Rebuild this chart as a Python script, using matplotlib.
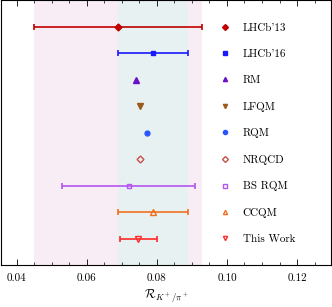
import numpy as np
import matplotlib
matplotlib.use("Agg")
from matplotlib import pyplot as plt
from matplotlib.lines import Line2D
from matplotlib.ticker import MultipleLocator

plt.rcParams['font.family'] = ['cmr10', 'DejaVu Serif']
plt.rcParams['mathtext.fontset'] = 'cm'
plt.rcParams['axes.formatter.use_mathtext'] = True

labels = ["LHCb'13", "LHCb'16", "RM", "LFQM", "RQM", "NRQCD", "BS RQM", "CCQM", "This Work"]
values = [0.069, 0.079, 0.0741, 0.0751, 0.0771, 0.0751, 0.072, 0.079, 0.0746]
err_lo = [0.024, 0.010, 0.0, 0.0, 0.0, 0.0, 0.019, 0.010, 0.0052]
err_hi = [0.024, 0.010, 0.0, 0.0, 0.0, 0.0, 0.019, 0.010, 0.0053]
markers = ['D', 's', '^', 'v', 'o', 'D', 's', '^', 'v']
colors = ['#c00000', '#1a1aff', '#6a10c8', '#9c5a1c', '#2a55ff',
          '#c8504a', '#b555f0', '#f07020', '#ff2a2a']
filled = [True, True, True, True, True, False, False, False, False]

# bands: LHCb'13 and LHCb'16 ranges
band13 = (values[0] - err_lo[0], values[0] + err_hi[0])
band16 = (values[1] - err_lo[1], values[1] + err_hi[1])

fig = plt.figure(figsize=(3.32, 3.07), dpi=100)
ax = fig.add_axes([1/332, 42/307, 330/332, 265/307])

ax.axvspan(*band13, color='#f8edf4', lw=0, zorder=0)
ax.axvspan(*band16, color='#e7f1f2', lw=0, zorder=0.5)

n = len(labels)
ypos = np.arange(n, 0, -1)
handles = []
for i in range(n):
    face = colors[i] if filled[i] else 'none'
    ms = 3.5 if markers[i] in ('D', 'o', 's') else 4
    if err_lo[i] > 0:
        ax.errorbar(values[i], ypos[i], xerr=[[err_lo[i]], [err_hi[i]]],
                    fmt=markers[i], color=colors[i], mfc=face, mec=colors[i],
                    ms=ms, lw=1.2, capsize=2, capthick=1.2, zorder=3)
    else:
        ax.plot(values[i], ypos[i], markers[i], color=colors[i], mfc=face,
                mec=colors[i], ms=ms, zorder=3)
    handles.append(Line2D([], [], ls='none', marker=markers[i], color=colors[i],
                          mfc=face, mec=colors[i], ms=3))

ax.legend(handles, labels, loc='upper left', bbox_to_anchor=(0.646, 0.935),
          frameon=False, fontsize=8, labelspacing=1.49, handlelength=1.0,
          handletextpad=1.05, borderpad=0)

ax.set_xlim(0.0355, 0.1297)
ax.set_ylim(0, 10)
ax.set_yticks([])
ax.xaxis.set_major_locator(MultipleLocator(0.02))
ax.xaxis.set_minor_locator(MultipleLocator(0.005))
ax.xaxis.set_major_formatter(matplotlib.ticker.FormatStrFormatter('%.2f'))
ax.tick_params(axis='x', which='both', direction='in', top=True, labelsize=8, pad=6)
ax.tick_params(axis='x', which='major', length=4, width=0.6)
ax.tick_params(axis='x', which='minor', length=2, width=0.5)
for s in ax.spines.values():
    s.set_linewidth(0.8)
ax.set_xlabel(r'$\mathcal{R}_{K^+/\pi^+}$', fontsize=9, labelpad=4)

fig.savefig("out.png", dpi=100)
